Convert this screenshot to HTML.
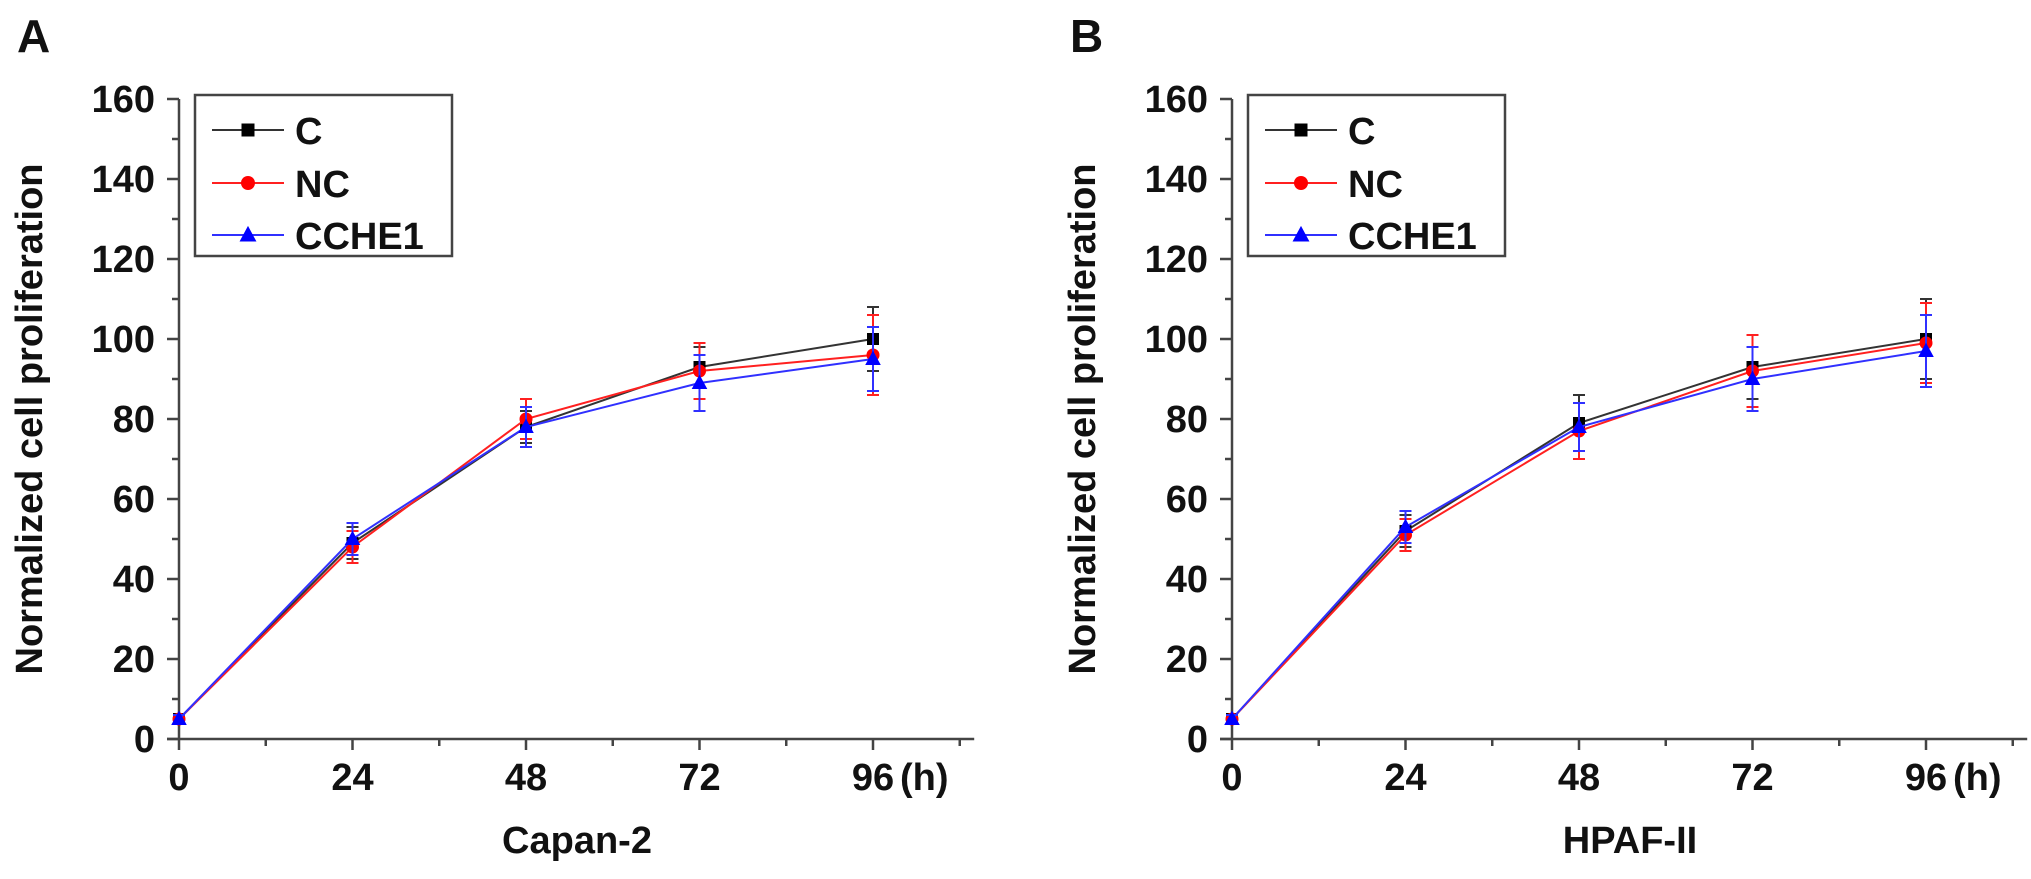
<!DOCTYPE html>
<html><head><meta charset="utf-8">
<style>
html,body{margin:0;padding:0;background:#fff;}
svg{display:block;font-family:"Liberation Sans",Arial,sans-serif;font-weight:bold;}
</style></head>
<body>
<svg id="fig" width="2031" height="879" viewBox="0 0 2031 879" xmlns="http://www.w3.org/2000/svg"></svg>
<script>
const hours = [0, 24, 48, 72, 96];
const seriesNames = ["C", "NC", "CCHE1"];
const xTicks = [0, 24, 48, 72, 96];
const yTicks = [0, 20, 40, 60, 80, 100, 120, 140, 160];
const aC = [5, 49, 78, 93, 100];
const aNC = [5, 48, 80, 92, 96];
const aCCHE1 = [5, 50, 78, 89, 95];
const aCErr = [1, 4, 4, 5, 8];
const aNCErr = [1, 4, 5, 7, 10];
const aCCHE1Err = [1, 4, 5, 7, 8];
const bC = [5, 52, 79, 93, 100];
const bNC = [5, 51, 77, 92, 99];
const bCCHE1 = [5, 53, 78, 90, 97];
const bCErr = [1, 4, 7, 8, 10];
const bNCErr = [1, 4, 7, 9, 10];
const bCCHE1Err = [1, 4, 6, 8, 9];
const titlesX = ["Capan-2", "HPAF-II"];
const panelLetters = ["A", "B"];

const NS = "http://www.w3.org/2000/svg";
const svg = document.getElementById("fig");
function mk(tag, attrs, parent) {
  const e = document.createElementNS(NS, tag);
  for (const k in attrs) e.setAttribute(k, attrs[k]);
  (parent || svg).appendChild(e);
  return e;
}
const colors = ["#000000", "#ff0000", "#0000ff"];
const lineColors = ["#333333", "#ff2020", "#3030ff"];

function drawMarker(g, kind, x, y, color, s) {
  let m;
  if (kind === 0) m = mk("rect", {x: x - s/2, y: y - s/2, width: s, height: s, fill: color}, g);
  else if (kind === 1) m = mk("circle", {cx: x, cy: y, r: s/2 + 0.5, fill: color}, g);
  else m = mk("polygon", {points: `${x},${y - s*0.7} ${x - s*0.65},${y + s*0.5} ${x + s*0.65},${y + s*0.5}`, fill: color}, g);
  return m;
}

function panel(idx, x0, vals, errs) {
  const y0 = 739, yTop = 99, xStep = 173.5 / 24;
  const X = h => x0 + h * xStep;
  const Y = v => y0 - (v / 160) * (y0 - yTop);
  const g = mk("g", {});
  
  

  const lt = mk("text", {x: x0 - 162, y: 52, "font-size": 46, fill: "#111"}, g);
  lt.textContent = panelLetters[idx];
  
  

  // axes
  const ax = mk("g", {stroke: "#444", "stroke-width": 2.5, fill: "none"}, g);
  
  
  mk("line", {x1: x0, y1: yTop, x2: x0, y2: y0}, ax);
  mk("line", {x1: x0 - 12, y1: y0, x2: X(110), y2: y0}, ax);
  for (let v = 0; v <= 160; v += 10) {
    const len = v % 20 === 0 ? 12 : 7;
    mk("line", {x1: x0 - len, y1: Y(v), x2: x0, y2: Y(v)}, ax);
  }
  for (let h = 0; h <= 108; h += 12) {
    const len = h % 24 === 0 ? 11 : 7;
    mk("line", {x1: X(h), y1: y0, x2: X(h), y2: y0 + len}, ax);
  }
  yTicks.forEach(v => {
    const t = mk("text", {x: x0 - 24, y: Y(v) + 13, "font-size": 38, "text-anchor": "end", fill: "#111"}, g);
    t.textContent = v;
    
    
  });
  xTicks.forEach(h => {
    const t = mk("text", {x: X(h), y: 790, "font-size": 38, "text-anchor": "middle", fill: "#111"}, g);
    t.textContent = h;
    
    
  });
  const hu = mk("text", {x: X(96) + 27, y: 790, "font-size": 38, fill: "#111"}, g);
  hu.textContent = "(h)";
  
  
  const xt = mk("text", {x: x0 + 398, y: 853, "font-size": 38, "text-anchor": "middle", fill: "#111"}, g);
  xt.textContent = titlesX[idx];
  
  
  const yt = mk("text", {x: 0, y: 0, "font-size": 38, "text-anchor": "middle", fill: "#111",
    transform: `translate(${x0 - 137},${(y0 + yTop) / 2}) rotate(-90)`}, g);
  yt.textContent = "Normalized cell proliferation";
  
  

  // series
  vals.forEach((arr, s) => {
    const sg = mk("g", {}, g);
    
    
    const pts = arr.map((v, i) => `${X(hours[i])},${Y(v)}`).join(" ");
    mk("polyline", {points: pts, fill: "none", stroke: lineColors[s], "stroke-width": 2}, sg);
    arr.forEach((v, i) => {
      const x = X(hours[i]), e = errs[s][i];
      const eb = mk("g", {stroke: lineColors[s], "stroke-width": 2}, sg);
      
      
      mk("line", {x1: x, y1: Y(v + e), x2: x, y2: Y(v - e)}, eb);
      mk("line", {x1: x - 6, y1: Y(v + e), x2: x + 6, y2: Y(v + e)}, eb);
      mk("line", {x1: x - 6, y1: Y(v - e), x2: x + 6, y2: Y(v - e)}, eb);
      const m = drawMarker(sg, s, x, Y(v), colors[s], 12);
      
      
    });
  });

  // legend
  const lg = mk("g", {}, g);
  
  
  mk("rect", {x: x0 + 16, y: 95, width: 257, height: 161, fill: "#fff", stroke: "#444", "stroke-width": 2.5}, lg);
  const ly = [130, 183, 235];
  seriesNames.forEach((n, s) => {
    const le = mk("g", {}, lg);
    
    
    mk("line", {x1: x0 + 33, y1: ly[s], x2: x0 + 105, y2: ly[s], stroke: lineColors[s], "stroke-width": 2}, le);
    drawMarker(le, s, x0 + 69, ly[s], colors[s], 13);
    const t = mk("text", {x: x0 + 116, y: ly[s] + 14, "font-size": 38, fill: "#111"}, le);
    t.textContent = n;
  });
}

panel(0, 179, [aC, aNC, aCCHE1], [aCErr, aNCErr, aCCHE1Err]);
panel(1, 1232, [bC, bNC, bCCHE1], [bCErr, bNCErr, bCCHE1Err]);
</script>
</body></html>
